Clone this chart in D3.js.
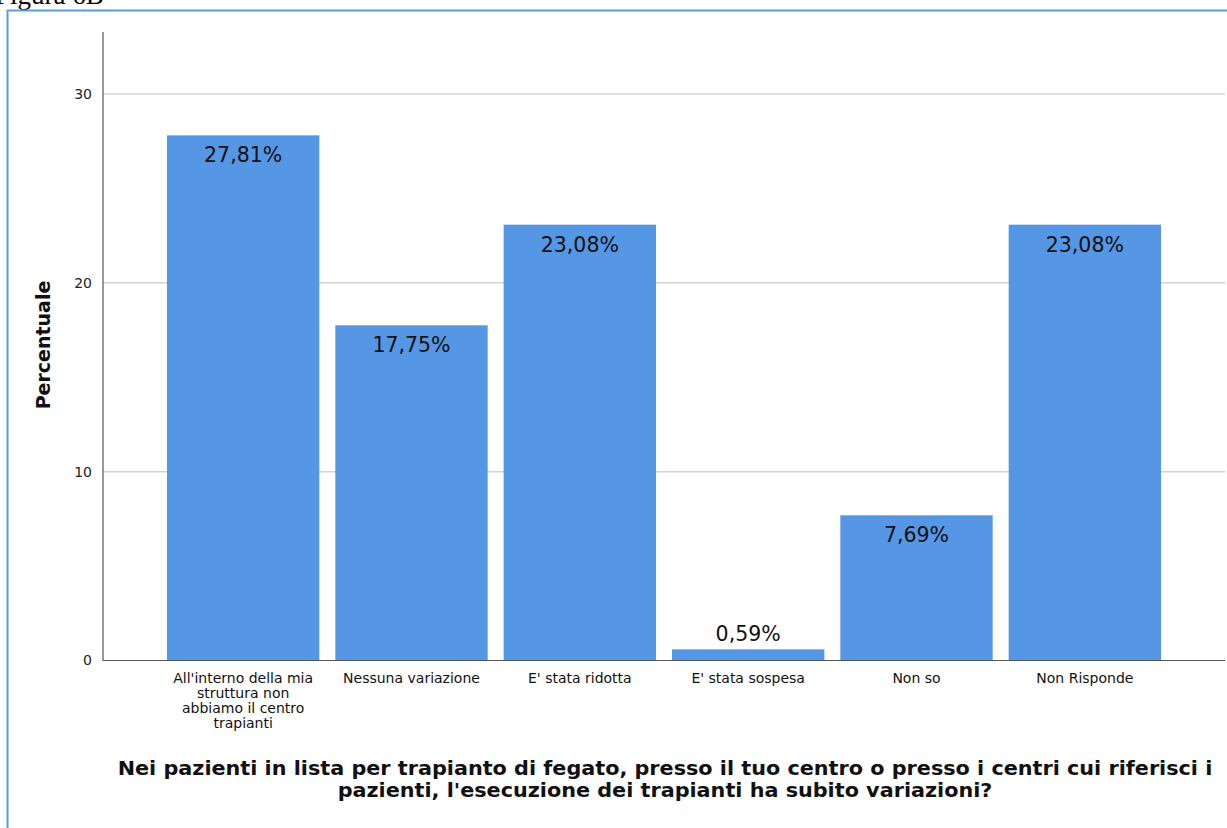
<!DOCTYPE html>
<html>
<head>
<meta charset="utf-8">
<script src="https://cdn.jsdelivr.net/npm/d3@7"></script>
<style>
  body { margin: 0; background: #fff; }
  svg { display: block; }
</style>
</head>
<body>
<svg id="chart" width="1227" height="828"></svg>
<script>
// data
const categories = [
  "All'interno della mia|struttura non|abbiamo il centro|trapianti",
  "Nessuna variazione",
  "E' stata ridotta",
  "E' stata sospesa",
  "Non so",
  "Non Risponde"
];
const percentages = [27.81, 17.75, 23.08, 0.59, 7.69, 23.08];
const yTicks = [0, 10, 20, 30];
const titleLines = [
  "Nei pazienti in lista per trapianto di fegato, presso il tuo centro o presso i centri cui riferisci i",
  "pazienti, l'esecuzione dei trapianti ha subito variazioni?"
];

const svg = d3.select("#chart");
const plotLeft = 103, plotRight = 1225, plotTop = 32, plotBottom = 660.5;

// figure caption, cut off at the top like in the source
svg.append("text")
  .attr("x", -5).attr("y", 4)
  .style("font-family", "Liberation Serif, serif")
  .style("font-size", "27px")
  .attr("fill", "#000")
  .text("Figura 6B");

// blue frame
svg.append("rect")
  .attr("x", 7.5).attr("y", 10.5)
  .attr("width", 1240).attr("height", 840)
  .attr("fill", "none")
  .attr("stroke", "#5d9be0")
  .attr("stroke-width", 2);

const x = d3.scaleBand()
  .domain(categories)
  .range([plotLeft, plotRight])
  .paddingInner(0.095)
  .paddingOuter(0.38);

const y = d3.scaleLinear().domain([0, 30]).range([plotBottom, 94]);

// gridlines
svg.append("g")
  .selectAll("line")
  .data(yTicks.filter(d => d > 0))
  .join("line")
  .attr("x1", plotLeft).attr("x2", plotRight)
  .attr("y1", d => y(d)).attr("y2", d => y(d))
  .attr("stroke", "#d4d4d4")
  .attr("stroke-width", 1.5);

// bars
svg.append("g")
  .selectAll("rect")
  .data(percentages)
  .join("rect")
  .attr("x", (d, i) => x(categories[i]))
  .attr("y", d => y(d))
  .attr("width", x.bandwidth())
  .attr("height", d => plotBottom - y(d))
  .attr("fill", "#5596e5");

// value labels
svg.append("g")
  .selectAll("text")
  .data(percentages)
  .join("text")
  .attr("x", (d, i) => x(categories[i]) + x.bandwidth() / 2)
  .attr("y", d => d < 3 ? y(d) - 8 : y(d) + 27)
  .attr("text-anchor", "middle")
  .style("font-family", "DejaVu Sans, sans-serif")
  .style("font-size", "20.5px")
  .attr("fill", "#111")
  .text(d => d.toFixed(2).replace(".", ",") + "%");

// axes
const yAxis = svg.append("g")
  .attr("transform", `translate(${plotLeft},0)`)
  .call(d3.axisLeft(y).tickValues(yTicks).tickSize(0).tickPadding(11));
yAxis.select(".domain").remove();
yAxis.selectAll("text")
  .style("font-family", "DejaVu Sans, sans-serif")
  .style("font-size", "14px")
  .attr("fill", "#222");

svg.append("line")
  .attr("x1", plotLeft).attr("x2", plotLeft)
  .attr("y1", plotTop).attr("y2", plotBottom)
  .attr("stroke", "#555").attr("stroke-width", 1.2);
svg.append("line")
  .attr("x1", plotLeft).attr("x2", plotRight)
  .attr("y1", plotBottom).attr("y2", plotBottom)
  .attr("stroke", "#555").attr("stroke-width", 1.2);

// category labels (multi-line)
const catG = svg.append("g");
categories.forEach(c => {
  const t = catG.append("text")
    .attr("x", x(c) + x.bandwidth() / 2)
    .attr("y", 683)
    .attr("text-anchor", "middle")
    .style("font-family", "DejaVu Sans, sans-serif")
    .style("font-size", "14px")
    .attr("fill", "#111");
  c.split("|").forEach((line, i) => {
    t.append("tspan")
      .attr("x", x(c) + x.bandwidth() / 2)
      .attr("dy", i === 0 ? 0 : 15)
      .text(line);
  });
});

// y axis title
svg.append("text")
  .attr("transform", "translate(50,345) rotate(-90)")
  .attr("text-anchor", "middle")
  .style("font-family", "DejaVu Sans, sans-serif")
  .style("font-weight", "bold")
  .style("font-size", "19px")
  .attr("fill", "#111")
  .text("Percentuale");

// x axis title: narrow, tall lettering -> squeeze a bold face horizontally
const titleG = svg.append("g");
const titleTexts = titleLines.map((line, i) => titleG.append("text")
  .attr("text-anchor", "middle")
  .style("font-family", "DejaVu Sans, sans-serif")
  .style("font-weight", "bold")
  .style("font-size", "20px")
  .attr("fill", "#111")
  .text(line));
const natural = titleTexts[0].node().getComputedTextLength();
const squeeze = natural > 0 ? 1095 / natural : 1;
titleTexts.forEach((t, i) => {
  t.attr("transform", `translate(665,${775 + i * 22}) scale(${squeeze},1)`);
});
</script>
</body>
</html>
